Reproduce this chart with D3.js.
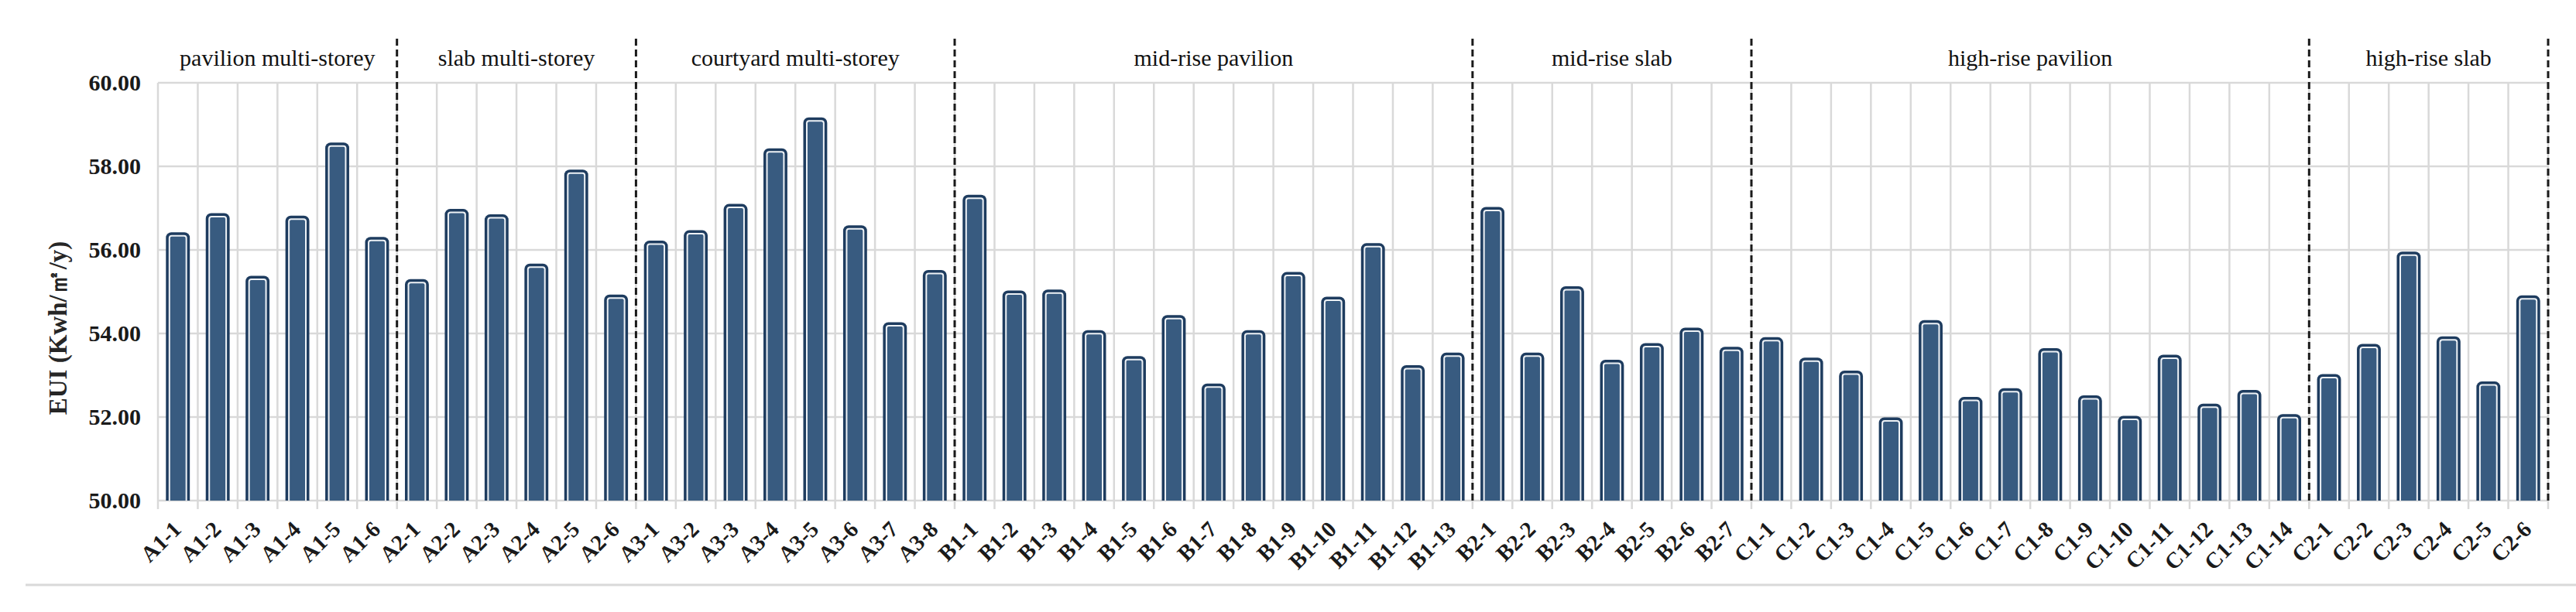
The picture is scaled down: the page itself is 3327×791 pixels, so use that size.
<!DOCTYPE html>
<html><head><meta charset="utf-8">
<script src="https://cdn.jsdelivr.net/npm/d3@7"></script>
<style>body{margin:0;background:#fff;} svg{display:block}</style>
</head><body>
<svg id="chart" width="3327" height="791"></svg>
<script>
const categories = [
  "A1-1","A1-2","A1-3","A1-4","A1-5","A1-6",
  "A2-1","A2-2","A2-3","A2-4","A2-5","A2-6",
  "A3-1","A3-2","A3-3","A3-4","A3-5","A3-6","A3-7","A3-8",
  "B1-1","B1-2","B1-3","B1-4","B1-5","B1-6","B1-7","B1-8","B1-9","B1-10","B1-11","B1-12","B1-13",
  "B2-1","B2-2","B2-3","B2-4","B2-5","B2-6","B2-7",
  "C1-1","C1-2","C1-3","C1-4","C1-5","C1-6","C1-7","C1-8","C1-9","C1-10","C1-11","C1-12","C1-13","C1-14",
  "C2-1","C2-2","C2-3","C2-4","C2-5","C2-6"
];
const values = [
  56.42, 56.88, 55.38, 56.82, 58.57, 56.31,
  55.30, 56.98, 56.85, 55.67, 57.92, 54.93,
  56.22, 56.47, 57.10, 58.43, 59.17, 56.59, 54.27, 55.52,
  57.32, 55.03, 55.05, 54.08, 53.46, 54.44, 52.80, 54.08, 55.47, 54.88, 56.16, 53.24, 53.54,
  57.03, 53.54, 55.13, 53.37, 53.77, 54.14, 53.68,
  53.91, 53.42, 53.11, 51.99, 54.32, 52.48, 52.69, 53.65, 52.52, 52.03, 53.49, 52.32, 52.65, 52.07,
  53.03, 53.75, 55.96, 53.93, 52.85, 54.91
];
const groupNames = ["pavilion multi-storey","slab multi-storey","courtyard multi-storey","mid-rise pavilion","mid-rise slab","high-rise pavilion","high-rise slab"];
const groupSizes = [6, 6, 8, 13, 7, 14, 6];
const yTicks = [50, 52, 54, 56, 58, 60];
const yTitle = "EUI (Kwh/㎡/y)";

const serif = "'Liberation Serif','Times New Roman',serif";
const m = {left: 204, right: 3291, top: 107, bottom: 647};
const svg = d3.select("#chart");

const x = d3.scaleBand().domain(categories).range([m.left, m.right]).paddingInner(0.4).paddingOuter(0.2);
const y = d3.scaleLinear().domain([50, 60]).range([m.bottom, m.top]);
const step = x.step(), bw = x.bandwidth();
const bx = i => i < categories.length ? x(categories[i]) - x.paddingOuter() * step
                                      : x(categories[categories.length - 1]) + bw + x.paddingOuter() * step;

// bottom frame line
svg.append("line").attr("x1", 33).attr("x2", 3327).attr("y1", 756).attr("y2", 756)
  .attr("stroke", "#d9d9d9").attr("stroke-width", 3);

// horizontal gridlines
svg.append("g").selectAll("line").data(yTicks).join("line")
  .attr("x1", m.left).attr("x2", m.right)
  .attr("y1", d => y(d)).attr("y2", d => y(d))
  .attr("stroke", "#d9d9d9").attr("stroke-width", 2.5);

// vertical gridlines / ticks at category boundaries
svg.append("g").selectAll("line").data(d3.range(categories.length + 1)).join("line")
  .attr("x1", i => bx(i)).attr("x2", i => bx(i))
  .attr("y1", y(60)).attr("y2", y(50) + 11)
  .attr("stroke", "#d9d9d9").attr("stroke-width", 2.5);

// y axis labels
const yAxis = svg.append("g").attr("transform", `translate(${m.left},0)`)
  .call(d3.axisLeft(y).tickValues(yTicks).tickFormat(d3.format(".2f")).tickSize(0).tickPadding(22));
yAxis.select(".domain").remove();
yAxis.selectAll("text").attr("font-family", serif).attr("font-size", 30).attr("font-weight", "bold")
  .attr("fill", "#1a1a1a");

// y title
svg.append("text").attr("transform", "translate(86,424) rotate(-90)")
  .attr("text-anchor", "middle").attr("font-family", serif).attr("font-size", 33)
  .attr("font-weight", "bold").attr("fill", "#262626").text(yTitle);

// bars
svg.append("defs").append("clipPath").attr("id", "plotclip")
  .append("rect").attr("x", 0).attr("y", 0).attr("width", 3327).attr("height", m.bottom);
const bars = svg.append("g").attr("clip-path", "url(#plotclip)");
const data = categories.map((c, i) => ({c, v: values[i]}));
bars.selectAll("rect.outer").data(data).join("rect").attr("class", "outer")
  .attr("x", d => x(d.c)).attr("y", d => y(d.v)).attr("width", bw)
  .attr("height", d => m.bottom - y(d.v) + 20).attr("rx", 7)
  .attr("fill", "#1e3c5f");
bars.selectAll("rect.white").data(data).join("rect").attr("class", "white")
  .attr("x", d => x(d.c) + 3.5).attr("y", d => y(d.v) + 3.5).attr("width", bw - 7)
  .attr("height", d => m.bottom - y(d.v) + 20).attr("rx", 4)
  .attr("fill", "#eef2f6");
bars.selectAll("rect.inner").data(data).join("rect").attr("class", "inner")
  .attr("x", d => x(d.c) + 5.5).attr("y", d => y(d.v) + 5.5).attr("width", bw - 11)
  .attr("height", d => m.bottom - y(d.v) + 20).attr("rx", 2)
  .attr("fill", "#385b80");

// group separators and titles
const ends = d3.cumsum(groupSizes);
const starts = [0, ...ends.slice(0, -1)];
svg.append("g").selectAll("line").data(ends).join("line")
  .attr("x1", d => bx(d)).attr("x2", d => bx(d))
  .attr("y1", 50).attr("y2", m.bottom)
  .attr("stroke", "#1a1a1a").attr("stroke-width", 3).attr("stroke-dasharray", "9,5");
svg.append("g").selectAll("text").data(groupNames).join("text")
  .attr("x", (d, i) => (bx(starts[i]) + bx(ends[i])) / 2).attr("y", 85)
  .attr("text-anchor", "middle").attr("font-family", serif).attr("font-size", 30)
  .attr("fill", "#111").text(d => d);

// x labels
svg.append("g").selectAll("text").data(categories).join("text")
  .attr("transform", d => `translate(${x(d) + bw / 2 + 6},${m.bottom + 39}) rotate(-45)`)
  .attr("text-anchor", "end").attr("font-family", serif).attr("font-size", 29)
  .attr("font-weight", "bold").attr("fill", "#1a1a1a").text(d => d);
</script>
</body></html>
